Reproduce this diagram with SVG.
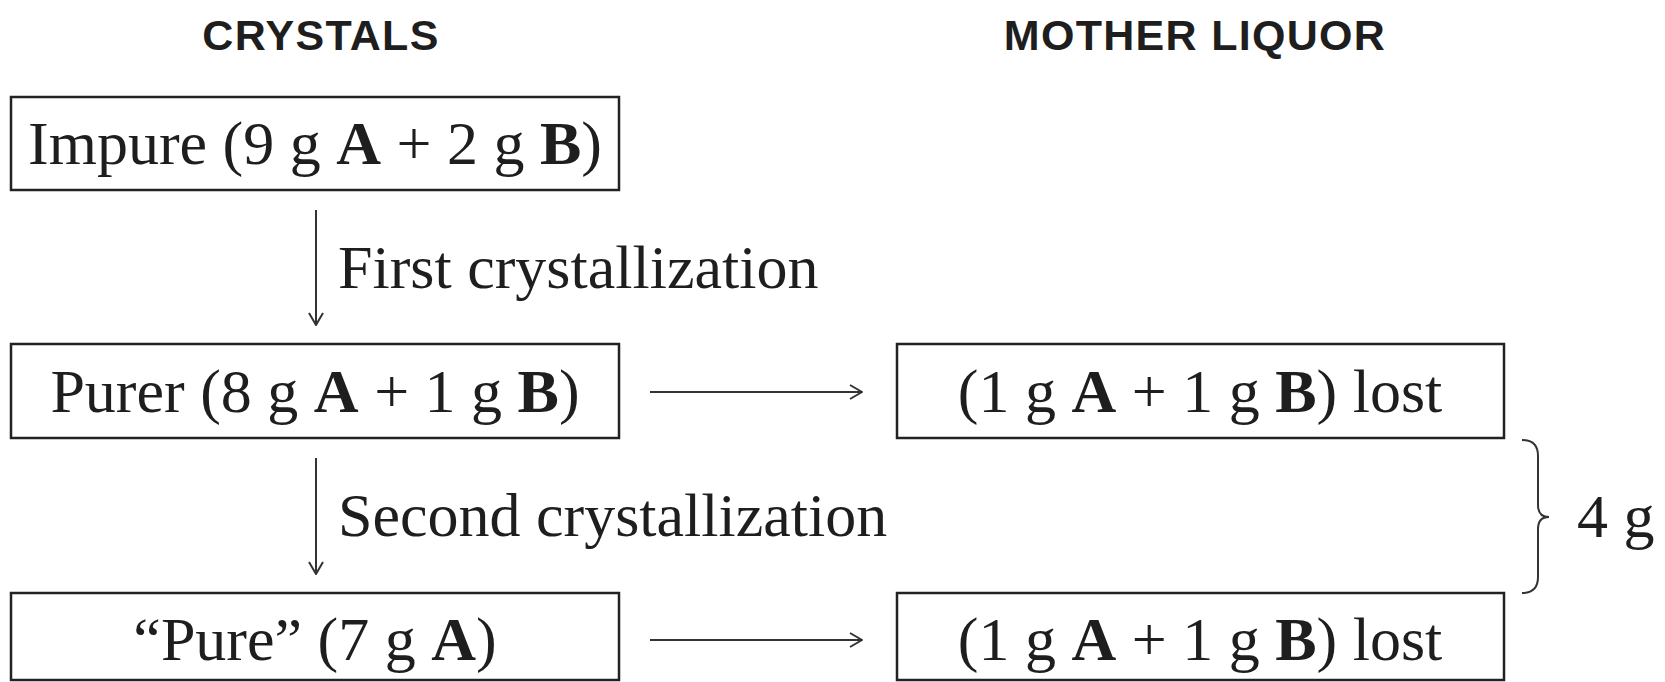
<svg xmlns="http://www.w3.org/2000/svg" width="1665" height="682" viewBox="0 0 1665 682">
<defs>
<marker id="ah" viewBox="0 0 14 16" refX="13" refY="8" markerWidth="14" markerHeight="16" markerUnits="userSpaceOnUse" orient="auto">
<path d="M1,1 L13,8 L1,15" fill="none" stroke="#333" stroke-width="2"/>
</marker>
</defs>
<style>
.box{fill:#fff;stroke:#222;stroke-width:2.5}
.t{font-family:"Liberation Serif","Times New Roman",serif;font-size:62px;fill:#1e1e1e}
.b{font-weight:bold}
.h{font-family:"Liberation Sans",Arial,sans-serif;font-weight:bold;font-size:43px;fill:#1e1e1e;letter-spacing:1.3px}
.c{fill:none;stroke:#333;stroke-width:2}
</style>
<rect width="1665" height="682" fill="#fff"/>
<g id="headers">
<text class="h" x="321" y="50" text-anchor="middle">CRYSTALS</text>
<text class="h" x="1195" y="50" text-anchor="middle">MOTHER LIQUOR</text>
</g>
<g id="impure">
<rect class="box" x="11" y="97" width="608" height="93"/>
<text class="t" x="315" y="164" text-anchor="middle">Impure (9 g <tspan class="b">A</tspan> + 2 g <tspan class="b">B</tspan>)</text>
</g>
<g id="purer">
<rect class="box" x="11" y="344" width="608" height="94"/>
<text class="t" x="315" y="412" text-anchor="middle">Purer (8 g <tspan class="b">A</tspan> + 1 g <tspan class="b">B</tspan>)</text>
</g>
<g id="pure">
<rect class="box" x="11" y="593" width="608" height="87"/>
<text class="t" x="315" y="660" text-anchor="middle">“Pure” (7 g <tspan class="b">A</tspan>)</text>
</g>
<g id="lost1">
<rect class="box" x="897" y="344" width="607" height="94"/>
<text class="t" x="1200" y="412" text-anchor="middle">(1 g <tspan class="b">A</tspan> + 1 g <tspan class="b">B</tspan>) lost</text>
</g>
<g id="lost2">
<rect class="box" x="897" y="593" width="607" height="87"/>
<text class="t" x="1200" y="660" text-anchor="middle">(1 g <tspan class="b">A</tspan> + 1 g <tspan class="b">B</tspan>) lost</text>
</g>
<g id="connectors">
<line class="c" x1="316" y1="210" x2="316" y2="325" marker-end="url(#ah)"/>
<line class="c" x1="316" y1="458" x2="316" y2="574" marker-end="url(#ah)"/>
<line class="c" x1="650" y1="392" x2="862" y2="392" marker-end="url(#ah)"/>
<line class="c" x1="650" y1="640" x2="862" y2="640" marker-end="url(#ah)"/>
</g>
<g id="labels">
<text class="t" x="338" y="288">First crystallization</text>
<text class="t" x="338" y="536">Second crystallization</text>
</g>
<g id="brace">
<path class="c" d="M1522,440 Q1538,440 1538,456 L1538,505 Q1538,517 1549,517 Q1538,517 1538,529 L1538,577 Q1538,593 1522,593"/>
<text class="t" x="1577" y="537">4 g</text>
</g>
</svg>
